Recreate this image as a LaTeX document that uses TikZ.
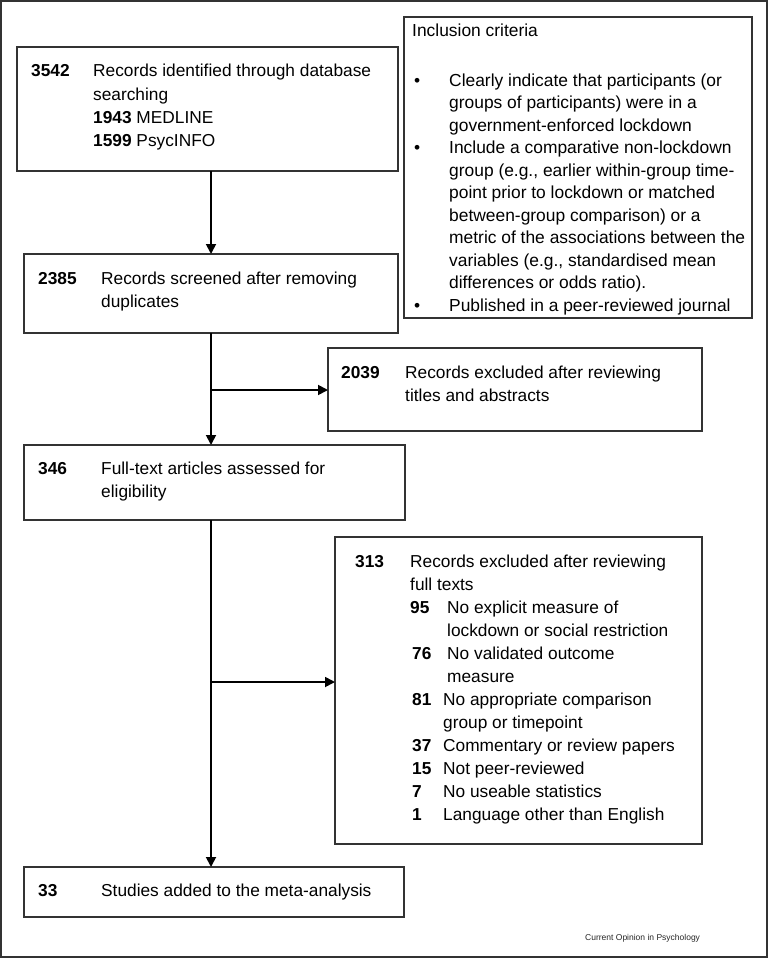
\documentclass[tikz,border=0pt]{standalone}
\usepackage{fontspec}
\setmainfont{Liberation Sans}
\usetikzlibrary{arrows.meta}
\begin{document}
\begin{tikzpicture}[x=1pt,y=-1pt,
  box/.style={draw=black!80, line width=1.3pt, inner sep=0pt, outer sep=0pt, anchor=north west},
  arr/.style={line width=1.8pt, -{Triangle[length=10pt,width=10pt]}},
  ta/.style={anchor=base west, inner sep=0pt, font=\fontsize{17.3}{20}\selectfont},
  tc/.style={anchor=base west, inner sep=0pt, font=\fontsize{17.4}{20}\selectfont},
]
\useasboundingbox (0,0) rectangle (768,958);
\draw[draw=black!80, line width=1.3pt] (1,1) rectangle (767,957);

% boxes
\node[box, minimum width=381pt, minimum height=124pt] (b1) at (17,47) {};
\node[box, minimum width=374pt, minimum height=79pt] (b2) at (24,254) {};
\node[box, minimum width=348pt, minimum height=301pt] (inc) at (404,17) {};
\node[box, minimum width=374pt, minimum height=83pt] (ex1) at (328,348) {};
\node[box, minimum width=381pt, minimum height=75pt] (b3) at (24,445) {};
\node[box, minimum width=367pt, minimum height=307pt] (ex2) at (335,537) {};
\node[box, minimum width=380pt, minimum height=50pt] (b4) at (24,867) {};

% connectors
\coordinate (spine) at (211,0);
\coordinate (j1) at (211,390);
\coordinate (j2) at (211,682);
\draw[arr] (b1.south -| spine) -- (b2.north -| spine);
\draw[arr] (b2.south -| spine) -- (b3.north -| spine);
\draw[arr] (j1) -- (j1 -| ex1.west);
\draw[arr] (b3.south -| spine) -- (b4.north -| spine);
\draw[arr] (j2) -- (j2 -| ex2.west);

% box 1
\node[ta] (n1) at (31,77) {\bfseries 3542};
\node[ta] (t1a) at (93,77) {Records identified through database};
\node[ta] (t1b) at (93,100) {searching};
\node[ta] (t1c) at (93,123) {\textbf{1943} MEDLINE};
\node[ta] (t1d) at (93,146) {\textbf{1599} PsycINFO};

% box 2
\node[ta] (n2) at (38,284) {\bfseries 2385};
\node[ta] (t2a) at (101,284) {Records screened after removing};
\node[ta] (t2b) at (101,307) {duplicates};

% box 3
\node[ta] (n3) at (38,474) {\bfseries 346};
\node[ta] (t3a) at (101,474) {Full-text articles assessed for};
\node[ta] (t3b) at (101,497) {eligibility};

% excluded 1
\node[ta] (ne1) at (341,378) {\bfseries 2039};
\node[ta] (te1a) at (405,378) {Records excluded after reviewing};
\node[ta] (te1b) at (405,401) {titles and abstracts};

% excluded 2
\node[ta] (ne2) at (355,567) {\bfseries 313};
\node[ta] (te2a) at (410,567) {Records excluded after reviewing};
\node[ta] (te2b) at (410,590) {full texts};
\node[ta] (r1n) at (410,613) {\bfseries 95};
\node[ta] (r1a) at (447,613) {No explicit measure of};
\node[ta] (r1b) at (447,636) {lockdown or social restriction};
\node[ta] (r2n) at (412,659) {\bfseries 76};
\node[ta] (r2a) at (447,659) {No validated outcome};
\node[ta] (r2b) at (447,682) {measure};
\node[ta] (r3n) at (412,705) {\bfseries 81};
\node[ta] (r3a) at (443,705) {No appropriate comparison};
\node[ta] (r3b) at (443,728) {group or timepoint};
\node[ta] (r4n) at (412,751) {\bfseries 37};
\node[ta] (r4a) at (443,751) {Commentary or review papers};
\node[ta] (r5n) at (412,774) {\bfseries 15};
\node[ta] (r5a) at (443,774) {Not peer-reviewed};
\node[ta] (r6n) at (412,797) {\bfseries 7};
\node[ta] (r6a) at (443,797) {No useable statistics};
\node[ta] (r7n) at (412,820) {\bfseries 1};
\node[ta] (r7a) at (443,820) {Language other than English};

% box 4
\node[ta] (n4) at (38,896) {\bfseries 33};
\node[ta] (t4) at (101,896) {Studies added to the meta-analysis};

% inclusion criteria
\node[tc] (ih) at (412,37) {Inclusion criteria};
\foreach \t [count=\i from 0] in {
  {Clearly indicate that participants (or},
  {groups of participants) were in a},
  {government-enforced lockdown},
  {Include a comparative non-lockdown},
  {group (e.g., earlier within-group time-},
  {point prior to lockdown or matched},
  {between-group comparison) or a},
  {metric of the associations between the},
  {variables (e.g., standardised mean},
  {differences or odds ratio).},
  {Published in a peer-reviewed journal}}
  \node[tc] (il\i) at (449,86+22.5*\i) {\t};
\foreach \i in {0,3,10}
  \node[tc] (ib\i) at (414,86+22.5*\i) {•};

% credit
\node[anchor=base west, inner sep=0pt, font=\fontsize{8.5}{10}\selectfont, text=black!85] (cr) at (585,940) {Current Opinion in Psychology};
\end{tikzpicture}
\end{document}
